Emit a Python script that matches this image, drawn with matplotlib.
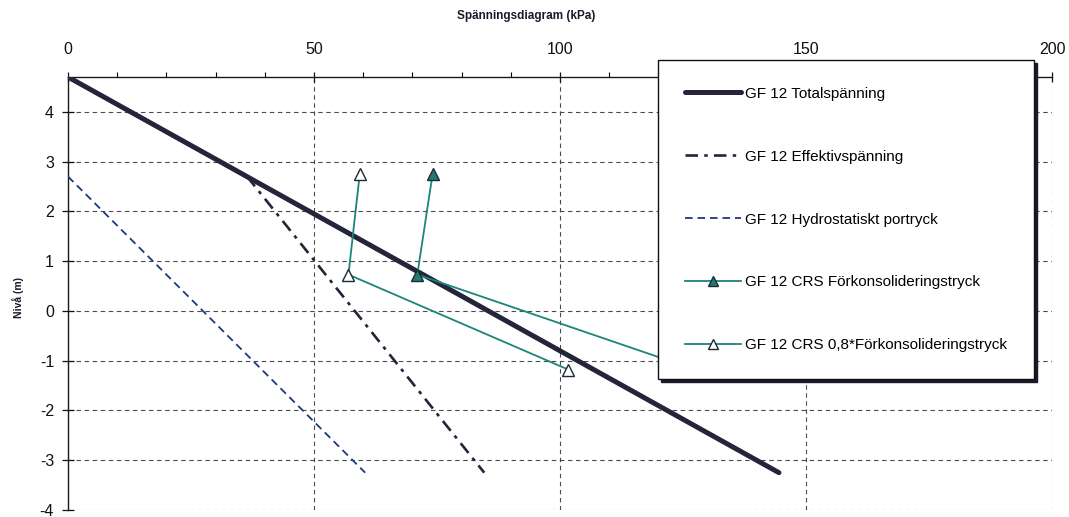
import matplotlib
matplotlib.use("Agg")
import matplotlib.pyplot as plt
from matplotlib.ticker import MultipleLocator

plt.rcParams['font.family'] = ['Liberation Sans', 'DejaVu Sans']
plt.rcParams['lines.scale_dashes'] = False
plt.rcParams['axes.unicode_minus'] = False

# ---- data (kPa vs level in m) ----
total_kpa = [0.0, 144.5]
total_level = [4.7, -3.25]

eff_kpa = [36.4, 84.6]
eff_level = [2.7, -3.25]

hyd_kpa = [0.0, 60.4]
hyd_level = [2.7, -3.25]

crs_kpa = [74.1, 71.0, 127.5]
crs_level = [2.75, 0.73, -1.18]

crs08_kpa = [59.3, 57.0, 101.7]
crs08_level = [2.75, 0.73, -1.18]

labels = ["GF 12 Totalspänning",
          "GF 12 Effektivspänning",
          "GF 12 Hydrostatiskt portryck",
          "GF 12 CRS Förkonsolideringstryck",
          "GF 12 CRS 0,8*Förkonsolideringstryck"]

x_ticks = [0, 50, 100, 150, 200]
y_ticks = [4, 3, 2, 1, 0, -1, -2, -3, -4]

W, H = 1069, 517
fig = plt.figure(figsize=(W / 100, H / 100), dpi=100)
ax = fig.add_axes([68 / W, 1 - 510 / H, (1052 - 68) / W, (510 - 77) / H])

teal = '#1b8579'
dark = '#24243a'

ax.plot(total_kpa, total_level, color=dark, lw=3.6, solid_capstyle='round',
        label=labels[0], zorder=3)
ax.plot(eff_kpa, eff_level, color=dark, lw=1.9, linestyle=(0, (9, 4.5, 2.5, 4.5)),
        label=labels[1], zorder=3)
ax.plot(hyd_kpa, hyd_level, color='#1c3a78', lw=1.3, linestyle=(0, (5.5, 3.5)),
        label=labels[2], zorder=3)
ax.plot(crs_kpa, crs_level, color=teal, lw=1.3, marker='^', markersize=8,
        markerfacecolor='#1f7d70', markeredgecolor='#1e2a33', markeredgewidth=1.0,
        label=labels[3], zorder=4)
ax.plot(crs08_kpa, crs08_level, color=teal, lw=1.3, marker='^', markersize=8,
        markerfacecolor='white', markeredgecolor='#1e2a33', markeredgewidth=1.0,
        label=labels[4], zorder=4)

ax.set_xlim(0, 200)
ax.set_ylim(-4, 4.7)
ax.xaxis.tick_top()
ax.set_xticks(x_ticks)
ax.set_yticks(y_ticks)
ax.xaxis.set_minor_locator(MultipleLocator(10))

ax.tick_params(axis='x', which='major', direction='inout', length=7, width=0.9,
               top=True, bottom=False, pad=11, labelsize=11.5, colors='#111111')
ax.tick_params(axis='x', which='minor', direction='out', length=3.5, width=0.8,
               top=True, bottom=False)
ax.tick_params(axis='y', which='major', direction='inout', length=8, width=0.9,
               pad=6, labelsize=11.5, colors='#111111')

for s in ['right', 'bottom']:
    ax.spines[s].set_visible(False)
for s in ['top', 'left']:
    ax.spines[s].set_color('#1a1a1a')
    ax.spines[s].set_linewidth(1.0)

ax.grid(True, which='major', color='#4a4a4a', lw=0.8, linestyle=(0, (3.2, 2.6)))
ax.set_axisbelow(True)

fig.text(526 / W, 1 - 16 / H, "Spänningsdiagram (kPa)", ha='center', va='center',
         fontsize=8.5, fontweight='bold', color='#1a1a2a')
fig.text(18 / W, 1 - 297 / H, "Nivå (m)", ha='center', va='center', rotation=90,
         fontsize=7.5, fontweight='bold', color='#1a1a2a')

leg = ax.legend(loc='upper left', bbox_to_anchor=(658 / W, 1 - 60 / H),
                bbox_transform=fig.transFigure, borderaxespad=0,
                fontsize=11, frameon=True, fancybox=False,
                shadow={'color': '#1a1a2a', 'alpha': 1.0},
                borderpad=1.75, labelspacing=3.2, handlelength=3.7,
                handletextpad=0.25, markerscale=0.85)
leg.get_frame().set_edgecolor('#111111')
leg.get_frame().set_linewidth(1.0)
leg.set_zorder(10)

fig.savefig("out.png", dpi=100, facecolor='white')
